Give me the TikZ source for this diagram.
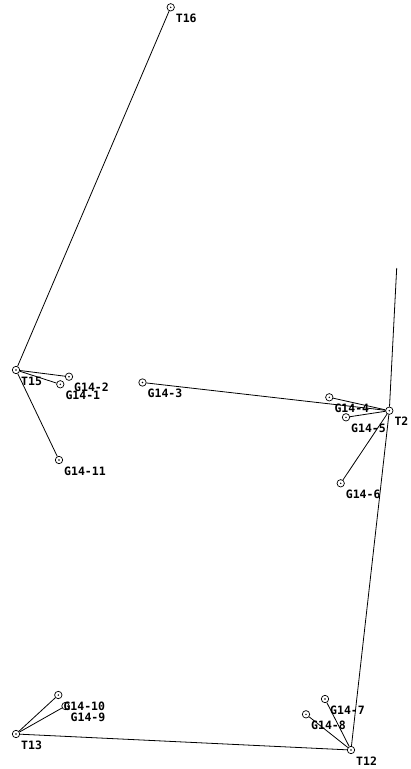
\documentclass[tikz,border=0pt]{standalone}
\usepackage{fontspec}
\usepackage{tikz}
\usetikzlibrary{arrows.meta,positioning,calc}
\newfontfamily\stnfont{DejaVu Sans Mono}

\begin{document}
\begin{tikzpicture}[
  x=1pt,
  y=-1pt,
  stn/.style={
    circle,
    draw,
    line width=0.7pt,
    minimum size=7.4pt,
    inner sep=0pt,
    path picture={\fill (path picture bounding box.center) circle (0.8pt);}
  },
  lbl/.style={
    anchor=west,
    inner sep=0pt,
    font=\stnfont\bfseries\fontsize{11.5}{13}\selectfont
  },
  link/.style={
    line width=0.8pt
  }
]
\useasboundingbox (0,0) rectangle (411,769);
% stations and their labels
\foreach \nm/\px/\py in {
  T16/170.7/7.3,
  T15/16/370,
  G14-2/69/376.7,
  G14-1/60.3/384.3,
  G14-11/59/460,
  G14-3/142.5/382.5,
  G14-4/329.3/397.3,
  G14-5/346/417.3,
  T2/389.3/410.7,
  G14-6/340.7/483.3,
  G14-7/325/699,
  G14-8/306/714.3,
  T12/351/750,
  T13/16/734,
  G14-10/58.3/695,
  G14-9/65.5/706%
}{
  \node[stn] (\nm) at (\px,\py) {};
  \node[lbl] (\nm-l) at ($(\nm)+(5,11)$) {\nm};
}
\coordinate (open) at (396.7,268);
% connections
\draw[link] (T16) -- (T15);
\draw[link] (T15) -- (G14-2);
\draw[link] (T15) -- (G14-1);
\draw[link] (T15) -- (G14-11);
\draw[link] (G14-3) -- (T2);
\draw[link] (G14-4) -- (T2);
\draw[link] (G14-5) -- (T2);
\draw[link] (G14-6) -- (T2);
\draw[link] (T2) -- (open);
\draw[link] (T2) -- (T12);
\draw[link] (G14-7) -- (T12);
\draw[link] (G14-8) -- (T12);
\draw[link] (T13) -- (T12);
\draw[link] (T13) -- (G14-10);
\draw[link] (T13) -- (G14-9);
\end{tikzpicture}
\end{document}
